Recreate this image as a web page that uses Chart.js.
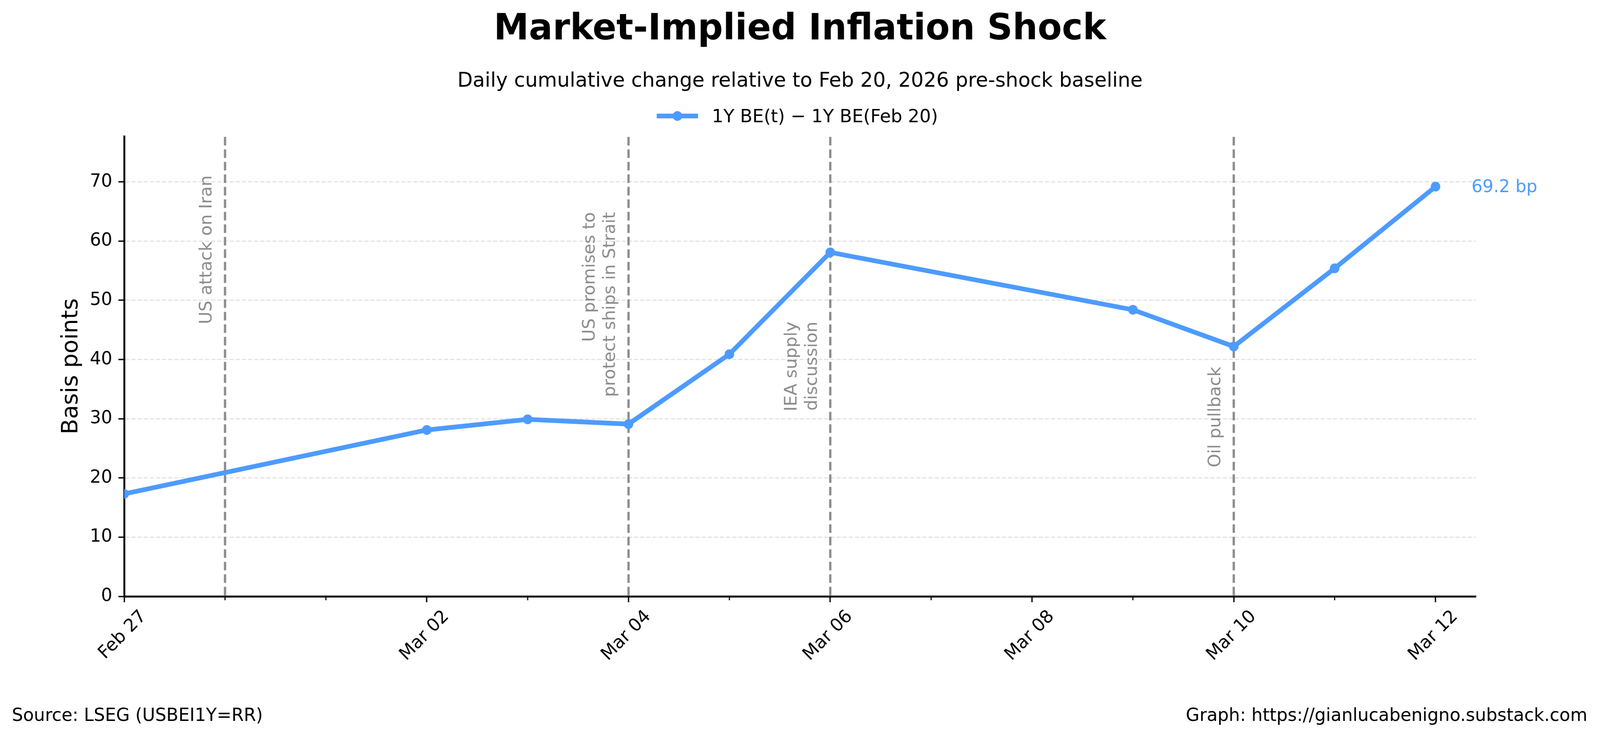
<!DOCTYPE html>
<html>
<head>
<meta charset="utf-8">
<title>Market-Implied Inflation Shock</title>
<script src="https://cdn.jsdelivr.net/npm/chart.js@4.4.1/dist/chart.umd.min.js"></script>
<style>
  html, body { margin: 0; padding: 0; background: #fff; overflow: hidden; }
  canvas { display: block; width: 100vw; height: 100vh; }
</style>
</head>
<body>
<canvas id="grafico" width="4176" height="1882" style="width:100vw;height:100vh"></canvas>
<script>
// valori (bp rispetto al 20 feb 2026)
const dates = ['2026-02-27', '2026-03-02', '2026-03-03', '2026-03-04', '2026-03-05',
               '2026-03-06', '2026-03-09', '2026-03-10', '2026-03-11', '2026-03-12'];
const beChange = [17.3, 28.1, 29.9, 29.1, 40.9, 58.1, 48.4, 42.2, 55.4, 69.2];

const xTickDates = ['2026-02-27', '2026-03-02', '2026-03-04', '2026-03-06', '2026-03-08', '2026-03-10', '2026-03-12'];
const xTickLabels = ['Feb 27', 'Mar 02', 'Mar 04', 'Mar 06', 'Mar 08', 'Mar 10', 'Mar 12'];
const yTicks = [0, 10, 20, 30, 40, 50, 60, 70];

const eventDates = ['2026-02-28', '2026-03-04', '2026-03-06', '2026-03-10'];
const eventLabels = [
    ['US attack on Iran'],
    ['US promises to', 'protect ships in Strait'],
    ['IEA supply', 'discussion'],
    ['Oil pullback']
];
const eventLabelTop = [71.1, 64.9, 46.4, 38.8];   // dove finisce il testo (in bp)

const FONT = "'DejaVu Sans', sans-serif";
const blu = '#4d9bff';
const grigio = '#8c8c8c';
const xMax = 13.4;
const yMax = 77.7;

// giorni dal primo dato
function dayOffset(d) {
    return Math.round((Date.parse(d) - Date.parse(dates[0])) / 86400000);
}
const xTickDays = xTickDates.map(dayOffset);
const allDays = [];
for (let g = 0; g <= dayOffset(dates[dates.length - 1]); g++) allDays.push(g);

Chart.defaults.font.family = FONT;
Chart.defaults.color = '#000';

// linee verticali degli eventi + testo ruotato
const eventiPlugin = {
    id: 'eventi',
    beforeDatasetsDraw(chart) {
        const {ctx, chartArea, scales: {x, y}} = chart;
        eventDates.forEach(function (d, i) {
            const px = x.getPixelForValue(dayOffset(d));
            ctx.save();
            ctx.strokeStyle = grigio;
            ctx.lineWidth = 6;
            ctx.setLineDash([22, 10]);
            ctx.beginPath();
            ctx.moveTo(px, chartArea.bottom - 2.5);
            ctx.lineTo(px, chartArea.top);
            ctx.stroke();
            ctx.restore();

            const righe = eventLabels[i];
            ctx.save();
            ctx.translate(px - 35, y.getPixelForValue(eventLabelTop[i]));
            ctx.rotate(-Math.PI / 2);
            ctx.fillStyle = grigio;
            ctx.font = '44px ' + FONT;
            ctx.textAlign = 'right';
            ctx.textBaseline = 'alphabetic';
            righe.forEach(function (r, k) {
                ctx.fillText(r, 0, -(righe.length - 1 - k) * 53);
            });
            ctx.restore();
        });
    }
};

// titolo, sottotitolo, legenda, note, etichetta finale, tacche minori
const testiPlugin = {
    id: 'testi',
    afterDraw(chart) {
        const {ctx, chartArea, scales: {x}} = chart;
        const meta = chart.getDatasetMeta(0);
        const last = meta.data[meta.data.length - 1];
        ctx.save();

        // tacche minori asse x
        ctx.strokeStyle = '#000';
        ctx.lineWidth = 3;
        allDays.forEach(function (g) {
            if (xTickDays.indexOf(g) >= 0) return;
            const px = x.getPixelForValue(g);
            ctx.beginPath();
            ctx.moveTo(px, chartArea.bottom);
            ctx.lineTo(px, chartArea.bottom + 10);
            ctx.stroke();
        });

        ctx.fillStyle = '#000';
        ctx.textBaseline = 'alphabetic';
        ctx.textAlign = 'center';
        ctx.font = 'bold 92px ' + FONT;
        ctx.fillText('Market-Implied Inflation Shock', 2088, 101);
        ctx.font = '52px ' + FONT;
        ctx.fillText('Daily cumulative change relative to Feb 20, 2026 pre-shock baseline', 2088, 222);

        // legenda
        ctx.strokeStyle = blu;
        ctx.lineWidth = 12;
        ctx.beginPath();
        ctx.moveTo(1714, 297);
        ctx.lineTo(1822, 297);
        ctx.stroke();
        ctx.fillStyle = blu;
        ctx.beginPath();
        ctx.arc(1768, 297, 12.5, 0, Math.PI * 2);
        ctx.fill();
        ctx.fillStyle = '#000';
        ctx.textAlign = 'left';
        ctx.font = '47px ' + FONT;
        ctx.fillText(chart.data.datasets[0].label, 1858, 313);

        // fonte
        ctx.font = '46px ' + FONT;
        ctx.fillText('Source: LSEG (USBEI1Y=RR)', 31, 1846);
        ctx.textAlign = 'right';
        ctx.fillText('Graph: https://gianlucabenigno.substack.com', 4143, 1846);

        // ultimo valore
        ctx.fillStyle = blu;
        ctx.textAlign = 'left';
        ctx.font = '45px ' + FONT;
        ctx.fillText(beChange[beChange.length - 1].toFixed(1) + ' bp', last.x + 94, last.y + 14);

        ctx.restore();
    }
};

new Chart(document.getElementById('grafico').getContext('2d'), {
    type: 'line',
    data: {
        datasets: [{
            label: '1Y BE(t) \u2212 1Y BE(Feb 20)',
            data: dates.map((d, i) => ({x: dayOffset(d), y: beChange[i]})),
            borderColor: blu,
            backgroundColor: blu,
            borderWidth: 12,
            pointRadius: 12.5,
            pointHoverRadius: 12.5,
            pointBorderWidth: 0,
            pointBackgroundColor: blu,
            tension: 0,
            fill: false
        }]
    },
    options: {
        responsive: false,
        animation: false,
        devicePixelRatio: 1,
        events: [],
        layout: {padding: {left: 0, top: 349, right: 324, bottom: 0}},
        plugins: {
            legend: {display: false},
            title: {display: false},
            tooltip: {enabled: false}
        },
        scales: {
            x: {
                type: 'linear',
                min: 0,
                max: xMax,
                afterFit: function (s) { s.height = 355; },
                afterBuildTicks: function (s) { s.ticks = allDays.map(v => ({value: v})); },
                ticks: {
                    autoSkip: false,
                    minRotation: 45,
                    maxRotation: 45,
                    padding: 10,
                    labelOffset: 51,
                    font: {size: 46},
                    color: '#000',
                    callback: function (v) {
                        const k = xTickDays.indexOf(v);
                        return k >= 0 ? xTickLabels[k] : '';
                    }
                },
                grid: {
                    drawOnChartArea: false,
                    drawTicks: true,
                    tickLength: 15,
                    tickWidth: 3.5,
                    tickColor: c => xTickDays.indexOf(c.tick.value) >= 0 ? '#000' : 'rgba(0,0,0,0)'
                },
                border: {display: true, color: '#000', width: 5}
            },
            y: {
                min: 0,
                max: yMax,
                afterFit: function (s) { s.width = 324; },
                afterBuildTicks: function (s) { s.ticks = yTicks.map(v => ({value: v})); },
                ticks: {padding: 16, font: {size: 46}, color: '#000'},
                grid: {
                    color: c => c.tick && c.tick.value === 0 ? 'rgba(0,0,0,0)' : '#e3e3e3',
                    lineWidth: 3,
                    drawTicks: true,
                    tickLength: 15,
                    tickWidth: 3.5,
                    tickColor: '#000'
                },
                border: {display: true, color: '#000', width: 5, dash: [11, 5]},
                title: {
                    display: true,
                    text: 'Basis points',
                    font: {size: 58},
                    color: '#000',
                    padding: {top: 152, bottom: 0}
                }
            }
        }
    },
    plugins: [eventiPlugin, testiPlugin]
});
</script>
</body>
</html>
